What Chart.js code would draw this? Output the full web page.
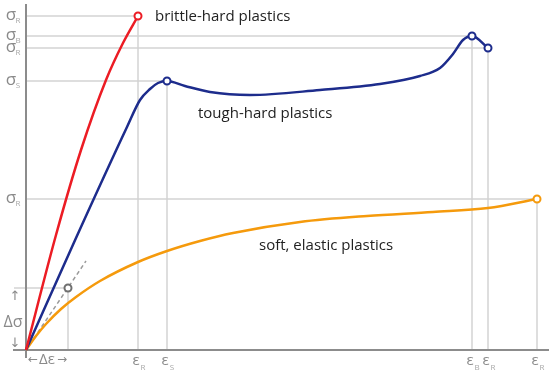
<!DOCTYPE html>
<html>
<head>
<meta charset="utf-8">
<script src="https://cdn.jsdelivr.net/npm/chart.js@4.4.1/dist/chart.umd.min.js"></script>
<style>
  html, body { margin: 0; padding: 0; background: #fff; }
  canvas { display: block; }
</style>
</head>
<body>
<canvas id="myChart" width="557" height="371"></canvas>
<script>
// strain (x) / stress (y) in arbitrary units
var brittleX = [0, 30, 55, 80, 97, 112];
var brittleY = [0, 115, 200, 270, 307, 334];

var toughX = [0, 50, 101, 114, 124, 132, 141, 159, 184, 224, 294, 354, 394, 414, 427, 437, 446, 462];
var toughY = [0, 112, 223, 250, 261, 267, 269, 264, 258, 255, 260, 266, 274, 282, 296, 310, 314, 302];

var softX = [0, 10, 20, 35, 50, 74, 112, 141, 174, 207, 274, 341, 407, 462, 511];
var softY = [0, 14, 26, 41, 53, 69, 88, 99, 109, 117, 128, 134, 138, 142, 151];

// modulus construction point (delta strain / delta stress)
var deltaPoint = [42, 62];
var tangentEnd = [60, 89];

// tick marks and their subscripts
var yTickValues = [334, 314, 302, 269, 151];
var yTickSubs = ['R', 'B', 'R', 'S', 'R'];
var xTickValues = [112, 141, 446, 462, 511];
var xTickSubs = ['R', 'S', 'B', 'R', 'R'];

var curveLabels = [
    { text: 'brittle-hard plastics', x: 129, y: 333 },
    { text: 'tough-hard plastics', x: 172, y: 236 },
    { text: 'soft, elastic plastics', x: 233, y: 104 }
];

function pts(xs, ys) {
    return xs.map(function(x, i) { return { x: x, y: ys[i] }; });
}

var gridColor = '#d4d4d4';
var axisColor = '#8c8c8c';

// drop lines from the marked points to both axes
var dropPoints = [
    [brittleX[5], brittleY[5]],
    [toughX[6], toughY[6]],
    [toughX[16], toughY[16]],
    [toughX[17], toughY[17]],
    [softX[14], softY[14]]
];

var datasets = [];

dropPoints.forEach(function(p) {
    datasets.push({
        data: [{ x: 0, y: p[1] }, { x: p[0], y: p[1] }, { x: p[0], y: 0 }],
        showLine: true, borderColor: gridColor, borderWidth: 1.5,
        pointRadius: 0, tension: 0, order: 5
    });
});

// delta construction lines
datasets.push({
    data: [{ x: -12, y: deltaPoint[1] }, { x: deltaPoint[0], y: deltaPoint[1] }, { x: deltaPoint[0], y: 0 }],
    showLine: true, borderColor: gridColor, borderWidth: 1.5, pointRadius: 0, order: 5
});
datasets.push({
    data: [{ x: 0, y: 0 }, { x: tangentEnd[0], y: tangentEnd[1] }],
    showLine: true, borderColor: '#9a9a9a', borderWidth: 1.5, borderDash: [4, 3],
    pointRadius: 0, order: 4
});

// axes
datasets.push({
    data: [{ x: 0, y: -8 }, { x: 0, y: 346 }],
    showLine: true, borderColor: axisColor, borderWidth: 2, pointRadius: 0, order: 3
});
datasets.push({
    data: [{ x: -13, y: 0 }, { x: 523, y: 0 }],
    showLine: true, borderColor: axisColor, borderWidth: 2, pointRadius: 0, order: 3
});

// curves
datasets.push({
    label: 'brittle-hard plastics', data: pts(brittleX, brittleY),
    showLine: true, borderColor: '#ec1c24', borderWidth: 2.5,
    cubicInterpolationMode: 'monotone', pointRadius: 0, order: 1
});
datasets.push({
    label: 'tough-hard plastics', data: pts(toughX, toughY),
    showLine: true, borderColor: '#1d2c8c', borderWidth: 2.5,
    cubicInterpolationMode: 'monotone', pointRadius: 0, order: 1
});
datasets.push({
    label: 'soft, elastic plastics', data: pts(softX, softY),
    showLine: true, borderColor: '#f59a0c', borderWidth: 2.5,
    cubicInterpolationMode: 'monotone', pointRadius: 0, order: 1
});

// open circle markers
function markers(list, color) {
    return {
        data: list.map(function(p) { return { x: p[0], y: p[1] }; }),
        showLine: false, pointRadius: 3.5, pointBorderWidth: 2,
        pointBackgroundColor: '#fff', pointBorderColor: color, order: 0
    };
}
datasets.push(markers([dropPoints[0]], '#ec1c24'));
datasets.push(markers([dropPoints[1], dropPoints[2], dropPoints[3]], '#1d2c8c'));
datasets.push(markers([dropPoints[4]], '#f59a0c'));
datasets.push(markers([deltaPoint], '#6f6f6f'));

var labelPlugin = {
    id: 'labels',
    afterDraw: function(chart) {
        var c = chart.ctx;
        var xs = chart.scales.x, ys = chart.scales.y;
        c.save();
        c.textAlign = 'center';
        c.textBaseline = 'middle';

        // stress labels
        yTickValues.forEach(function(v, i) {
            var py = ys.getPixelForValue(v);
            c.fillStyle = '#8a8a8a';
            c.font = '17px "Open Sans", sans-serif';
            c.fillText('σ', 11, py - 1);
            c.fillStyle = '#a8a8a8';
            c.font = '8px "Open Sans", sans-serif';
            c.fillText(yTickSubs[i], 18, py + 5);
        });
        // strain labels
        xTickValues.forEach(function(v, i) {
            var px = xs.getPixelForValue(v);
            c.fillStyle = '#8a8a8a';
            c.font = '15px "Open Sans", sans-serif';
            c.fillText('ε', px - 2, ys.getPixelForValue(-11));
            c.fillStyle = '#a8a8a8';
            c.font = '8px "Open Sans", sans-serif';
            c.fillText(xTickSubs[i], px + 5, ys.getPixelForValue(-18));
        });

        // delta sigma / delta epsilon
        c.fillStyle = '#8a8a8a';
        c.font = '16px "Open Sans", sans-serif';
        c.fillText('Δσ', 13, ys.getPixelForValue(deltaPoint[1] / 2 - 3));
        c.font = '13px "DejaVu Sans", sans-serif';
        c.fillText('↑', 15, ys.getPixelForValue(deltaPoint[1] - 9));
        c.fillText('↓', 15, ys.getPixelForValue(6));
        c.font = '15px "Open Sans", sans-serif';
        c.fillText('Δε', xs.getPixelForValue(deltaPoint[0] / 2), ys.getPixelForValue(-10));
        c.font = '12px "DejaVu Sans", sans-serif';
        c.fillText('←', xs.getPixelForValue(7), ys.getPixelForValue(-10));
        c.fillText('→', xs.getPixelForValue(deltaPoint[0] - 6), ys.getPixelForValue(-10));

        // curve names
        c.fillStyle = '#222';
        c.font = '15px "Open Sans", sans-serif';
        c.textAlign = 'left';
        curveLabels.forEach(function(l) {
            c.fillText(l.text, xs.getPixelForValue(l.x), ys.getPixelForValue(l.y));
        });
        c.restore();
    }
};

var ctx = document.getElementById('myChart').getContext('2d');
var myChart = new Chart(ctx, {
    type: 'scatter',
    data: { datasets: datasets },
    options: {
        responsive: false,
        animation: false,
        devicePixelRatio: 1,
        layout: { autoPadding: false, padding: { left: 12, right: 5, top: 0, bottom: 0 } },
        plugins: { legend: { display: false }, tooltip: { enabled: false } },
        elements: { line: { fill: false }, point: { hitRadius: 0 } },
        scales: {
            x: { type: 'linear', display: false, min: -14, max: 526 },
            y: { type: 'linear', display: false, min: -21, max: 350 }
        }
    },
    plugins: [labelPlugin]
});
</script>
</body>
</html>
